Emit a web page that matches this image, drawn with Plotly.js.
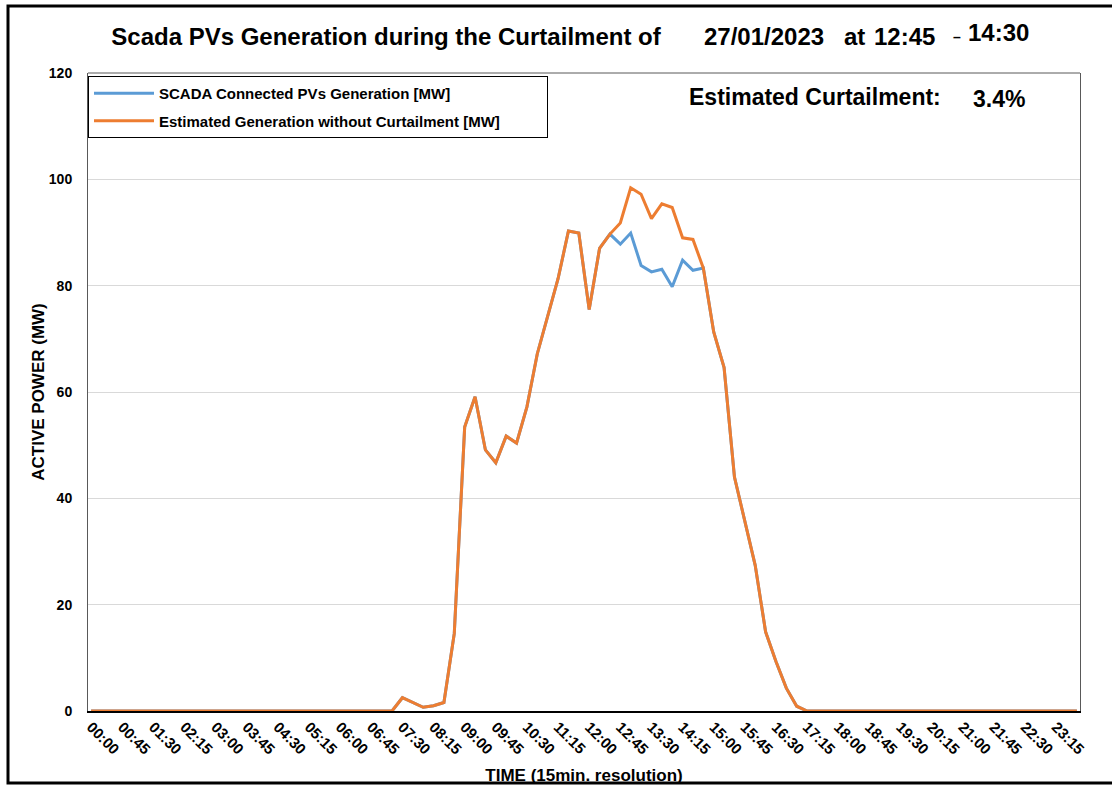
<!DOCTYPE html>
<html>
<head>
<meta charset="utf-8">
<script src="https://cdn.plot.ly/plotly-3.0.1.min.js"></script>
<style>
html,body{margin:0;padding:0;background:#fff;}
#chart{width:1112px;height:785px;}
</style>
</head>
<body>
<div id="chart"></div>
<script>
const times = [
"00:00","00:15","00:30","00:45","01:00","01:15","01:30","01:45",
"02:00","02:15","02:30","02:45","03:00","03:15","03:30","03:45",
"04:00","04:15","04:30","04:45","05:00","05:15","05:30","05:45",
"06:00","06:15","06:30","06:45","07:00","07:15","07:30","07:45",
"08:00","08:15","08:30","08:45","09:00","09:15","09:30","09:45",
"10:00","10:15","10:30","10:45","11:00","11:15","11:30","11:45",
"12:00","12:15","12:30","12:45","13:00","13:15","13:30","13:45",
"14:00","14:15","14:30","14:45","15:00","15:15","15:30","15:45",
"16:00","16:15","16:30","16:45","17:00","17:15","17:30","17:45",
"18:00","18:15","18:30","18:45","19:00","19:15","19:30","19:45",
"20:00","20:15","20:30","20:45","21:00","21:15","21:30","21:45",
"22:00","22:15","22:30","22:45","23:00","23:15","23:30","23:45"
];

const tickLabels = [
"00:00","00:45","01:30","02:15","03:00","03:45","04:30","05:15",
"06:00","06:45","07:30","08:15","09:00","09:45","10:30","11:15",
"12:00","12:45","13:30","14:15","15:00","15:45","16:30","17:15",
"18:00","18:45","19:30","20:15","21:00","21:45","22:30","23:15"
];

const scadaGeneration = [
0,0,0,0,0,0,0,0, 0,0,0,0,0,0,0,0,
0,0,0,0,0,0,0,0, 0,0,0,0,0,0,2.5,1.6,
0.7,1.0,1.6,14.6,53.4,59.1,49.1,46.7, 51.7,50.4,57.2,67.2,74.1,81.3,90.3,89.9,
75.5,87.0,89.7,87.8,89.9,83.8,82.6,83.1, 79.8,84.8,82.9,83.3,71.3,64.6,44.0,35.9,
27.4,14.9,9.3,4.3,0.9,0,0,0, 0,0,0,0,0,0,0,0,
0,0,0,0,0,0,0,0, 0,0,0,0,0,0,0,0
];

const estimatedGeneration = [
0,0,0,0,0,0,0,0, 0,0,0,0,0,0,0,0,
0,0,0,0,0,0,0,0, 0,0,0,0,0,0,2.5,1.6,
0.7,1.0,1.6,14.6,53.4,59.1,49.1,46.7, 51.7,50.4,57.2,67.2,74.1,81.3,90.3,89.9,
75.5,87.0,89.7,91.8,98.4,97.2,92.6,95.4, 94.7,89.0,88.7,83.3,71.3,64.6,44.0,35.9,
27.4,14.9,9.3,4.3,0.9,0,0,0, 0,0,0,0,0,0,0,0,
0,0,0,0,0,0,0,0, 0,0,0,0,0,0,0,0
];

const seriesNames = [
"SCADA Connected PVs Generation [MW]",
"Estimated Generation without Curtailment [MW]"
];
const curtailmentText = "3.4%";

const FONT = '"Liberation Sans", Arial, sans-serif';
const sp = n => '\u00A0'.repeat(n);

const traces = [
  {x: times, y: scadaGeneration, type: 'scatter', mode: 'lines', name: seriesNames[0] + sp(15),
   legendgroup: 'a', line: {color: '#5B9BD5', width: 3}},
  {x: times, y: estimatedGeneration, type: 'scatter', mode: 'lines', name: seriesNames[1] + sp(10),
   legendgroup: 'b', line: {color: '#ED7D31', width: 3}}
];

const L = 88, R = 1080, T = 73, B = 711;
const px = v => (v - L) / (R - L);
const py = v => (B - v) / (B - T);

const layout = {
  width: 1112, height: 785,
  margin: {l: L, r: 1112 - R, t: T, b: 785 - B},
  paper_bgcolor: '#fff', plot_bgcolor: '#fff',
  font: {family: FONT, color: '#000', size: 14, weight: 'bold'},
  title: {text: '<b>Scada PVs Generation during the Curtailment of</b>',
          font: {size: 24, family: FONT, color: '#000'},
          xref: 'container', yref: 'container', x: 386/1112, xanchor: 'center',
          y: 1 - 37/785, yanchor: 'middle'},
  showlegend: true,
  legend: {x: 0, y: py(76), xanchor: 'left', yanchor: 'top',
           bordercolor: '#000', borderwidth: 1, bgcolor: '#fff',
           font: {size: 15, family: FONT, color: '#000', weight: 'bold'},
           tracegroupgap: 5, itemwidth: 60, traceorder: 'grouped'},
  xaxis: {type: 'category', categoryorder: 'array', categoryarray: times,
          range: [-0.3, 95.3], tickmode: 'array', tickvals: tickLabels, ticktext: tickLabels,
          tickangle: 45, tickfont: {size: 15, family: FONT, weight: 'bold'},
          showgrid: false, zeroline: false, showline: true, linecolor: '#000', linewidth: 1.5,
          ticks: '', automargin: false,
          title: {text: '<b>TIME (15min. resolution)</b>', font: {size: 17, family: FONT}, standoff: 12}},
  yaxis: {range: [0, 120], dtick: 20, tick0: 0, showgrid: true, gridcolor: '#d9d9d9', gridwidth: 1,
          zeroline: false, showline: true, linecolor: '#595959', linewidth: 1, mirror: true,
          ticks: '', ticklabelstandoff: 12, tickfont: {size: 14, family: FONT, weight: 'bold'},
          automargin: false,
          title: {text: '<b>ACTIVE POWER (MW)</b>', font: {size: 17, family: FONT}}},
  shapes: [
    {type: 'line', xref: 'paper', yref: 'paper', x0: 0, x1: 1, y0: 1, y1: 1,
     line: {color: '#595959', width: 1}},
    {type: 'rect', xref: 'paper', yref: 'paper', x0: px(8), x1: px(1118), y0: py(6), y1: py(783),
     line: {color: '#000', width: 3}, fillcolor: 'rgba(0,0,0,0)'}
  ],
  annotations: [
    {xref: 'paper', yref: 'paper', x: px(826), y: py(37), xanchor: 'right', yanchor: 'middle',
     text: '<b>27/01/2023</b>', showarrow: false, font: {size: 24, family: FONT}},
    {xref: 'paper', yref: 'paper', x: px(842), y: py(37), xanchor: 'left', yanchor: 'middle',
     text: '<b>at</b>', showarrow: false, font: {size: 24, family: FONT}},
    {xref: 'paper', yref: 'paper', x: px(872), y: py(37), xanchor: 'left', yanchor: 'middle',
     text: '<b>12:45</b>', showarrow: false, font: {size: 24, family: FONT}},
    {xref: 'paper', yref: 'paper', x: px(957), y: py(37), xanchor: 'center', yanchor: 'middle',
     text: '–', showarrow: false, font: {size: 14, family: FONT}},
    {xref: 'paper', yref: 'paper', x: px(966), y: py(33), xanchor: 'left', yanchor: 'middle',
     text: '<b>14:30</b>', showarrow: false, font: {size: 24, family: FONT}},
    {xref: 'paper', yref: 'paper', x: px(687), y: py(97), xanchor: 'left', yanchor: 'middle',
     text: '<b>Estimated Curtailment:</b>', showarrow: false, font: {size: 23, family: FONT}},
    {xref: 'paper', yref: 'paper', x: px(971), y: py(99), xanchor: 'left', yanchor: 'middle',
     text: '<b>' + curtailmentText + '</b>', showarrow: false, font: {size: 23, family: FONT}}
  ]
};

Plotly.newPlot('chart', traces, layout, {displayModeBar: false, staticPlot: true});
</script>
</body>
</html>
